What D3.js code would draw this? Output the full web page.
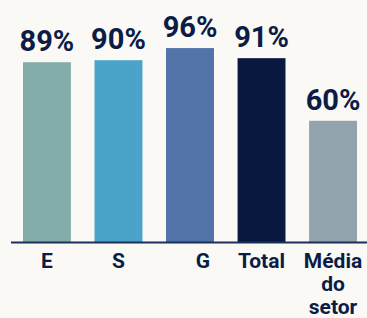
<!DOCTYPE html>
<html>
<head>
<meta charset="utf-8">
<script src="https://cdn.jsdelivr.net/npm/d3@7"></script>
<style>
  html, body { margin: 0; padding: 0; background: #faf9f5; }
  svg { display: block; font-family: Roboto, "Noto Sans", sans-serif; }
</style>
</head>
<body>
<div id="chart"></div>
<script>
const categories = ['E', 'S', 'G', 'Total', 'Média do setor'];
const values = [89, 90, 96, 91, 60];
const colors = ['#84ada9', '#4aa3c8', '#5173a7', '#08183f', '#91a4ae'];

const width = 367;
const height = 318;
const ink = '#0b1c47';

const svg = d3.select('#chart')
    .append('svg')
    .attr('width', width)
    .attr('height', height);

const x = d3.scaleBand()
    .domain(categories)
    .range([23, 357])
    .paddingInner(0.33);

const y = d3.scaleLinear()
    .domain([0, 100])
    .range([242, 40]);

svg.selectAll('.bar')
    .data(values)
    .enter().append('rect')
    .attr('class', 'bar')
    .attr('x', (d, i) => x(categories[i]))
    .attr('y', d => y(d))
    .attr('width', x.bandwidth())
    .attr('height', d => y(0) - y(d))
    .attr('fill', (d, i) => colors[i]);

// value labels
svg.selectAll('.value')
    .data(values)
    .enter().append('text')
    .attr('class', 'value')
    .attr('x', (d, i) => x(categories[i]) + x.bandwidth() / 2)
    .attr('y', d => y(d) - 11)
    .attr('text-anchor', 'middle')
    .attr('font-size', 29)
    .attr('font-weight', 700)
    .attr('fill', ink)
    .text(d => d + '%');

// baseline
svg.append('line')
    .attr('x1', 11)
    .attr('x2', width)
    .attr('y1', y(0) + 0.5)
    .attr('y2', y(0) + 0.5)
    .attr('stroke', '#1c2e5a')
    .attr('stroke-width', 2);

// category labels (G sits a bit right in the original)
const nudge = { G: 13 };
const cat = svg.selectAll('.cat')
    .data(categories)
    .enter().append('text')
    .attr('class', 'cat')
    .attr('text-anchor', 'middle')
    .attr('font-size', 21)
    .attr('font-weight', 700)
    .attr('fill', ink);

cat.selectAll('tspan')
    .data(d => d.split(' ').map(w => ({ w, c: d })))
    .enter().append('tspan')
    .attr('x', d => x(d.c) + x.bandwidth() / 2 + (nudge[d.c] || 0))
    .attr('y', (d, i) => 268 + i * 23)
    .text(d => d.w);
</script>
</body>
</html>
